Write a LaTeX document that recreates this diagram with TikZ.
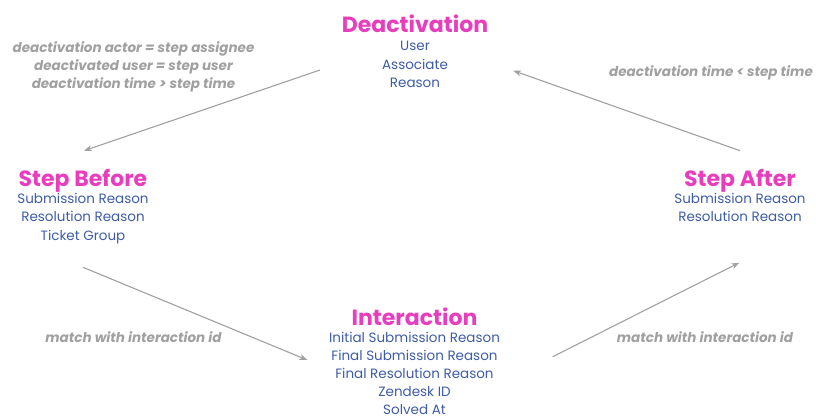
\documentclass[tikz,border=0pt]{standalone}
\usepackage{fontspec}
\setmainfont{Poppins}
\usepackage{xcolor}
\definecolor{hlpink}{RGB}{232,62,190}
\definecolor{hlblue}{RGB}{62,92,166}
\definecolor{hlgray}{RGB}{160,160,160}
\usetikzlibrary{arrows.meta,positioning}

\tikzset{
  title/.style={anchor=base,inner sep=0pt,text=hlpink,font=\fontsize{22}{26}\selectfont\bfseries},
  fields/.style={anchor=north,inner sep=0pt,align=center,text=hlblue,font=\fontsize{13.5}{18.2}\selectfont},
  cond/.style={inner sep=0pt,align=center,text=hlgray,font=\fontsize{13.5}{18}\selectfont\bfseries\itshape},
  flow/.style={-{Stealth[length=8pt,width=6pt]},draw=hlgray,line width=1.1pt}
}

\begin{document}
\begin{tikzpicture}[x=1pt,y=-1pt,node distance=0pt]
  \useasboundingbox (0,0) rectangle (816,420);

  % Tables (title + fields)
  \node[title] (deact) at (415,33) {Deactivation};
  \node[fields,below=8.3pt of deact.base] (deactf) {User\\Associate\\Reason};

  \node[title] (before) at (83,186.7) {Step Before};
  \node[fields,below=6.6pt of before.base] (beforef) {Submission Reason\\Resolution Reason\\Ticket Group};

  \node[title] (after) at (740,186.7) {Step After};
  \node[fields,below=6.6pt of after.base] (afterf) {Submission Reason\\Resolution Reason};

  \node[title] (inter) at (414.5,325.7) {Interaction};
  \node[fields,below=6pt of inter.base] (interf) {Initial Submission Reason\\Final Submission Reason\\Final Resolution Reason\\Zendesk ID\\Solved At};

  % Join conditions
  \node[cond,anchor=north] (condtl) at (133.5,41.5) {deactivation actor = step assignee\\deactivated user = step user\\deactivation time > step time};
  \node[cond,anchor=base] (condtr) at (711,76.7) {deactivation time < step time};
  \node[cond,anchor=base] (condbl) at (133.5,342.7) {match with interaction id};
  \node[cond,anchor=base] (condbr) at (705,342.7) {match with interaction id};

  % Arrows
  \draw[flow] ([shift={(-95,37)}]deact.base) -- ([shift={(1,-36)}]before.base);
  \draw[flow] ([shift={(0,-36)}]after.base) -- ([shift={(98.3,37.7)}]deact.base);
  \draw[flow] ([shift={(0,80.6)}]before.base) -- ([shift={(-107.2,34.3)}]inter.base);
  \draw[flow] ([shift={(138.2,31)}]inter.base) -- ([shift={(-0.7,76)}]after.base);
\end{tikzpicture}
\end{document}
